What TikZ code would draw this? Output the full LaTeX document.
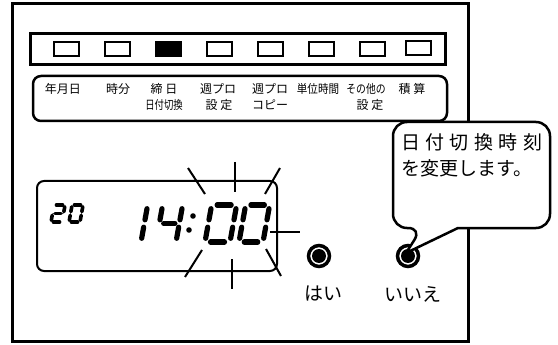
\documentclass[tikz,border=0pt]{standalone}
\usepackage{fontspec}
\usepackage{graphicx}
\newfontfamily\jpfont{Noto Sans CJK JP}
\usepackage{xcolor}
\definecolor{inkblack}{RGB}{0, 0, 0}

% segments of one 7-segment digit, unit box 1 x 2
\newcommand{\segzero}{0.22/2/0.78/2, 1/1.8/1/1.2, 1/0.8/1/0.2, 0.22/0/0.78/0, 0/0.2/0/0.8, 0/1.2/0/1.8}
\newcommand{\segone}{1/1.8/1/1.2, 1/0.8/1/0.2}
\newcommand{\segtwo}{0.22/2/0.78/2, 1/1.8/1/1.2, 0.22/1/0.78/1, 0/0.2/0/0.8, 0.22/0/0.78/0}
\newcommand{\segfour}{0/1.2/0/1.8, 0.22/1/0.78/1, 1/1.8/1/1.2, 1/0.8/1/0.2}
\newcommand{\lcddigit}[6]{%
  \begin{scope}[shift={(#1,#2)}, xslant=0.18, x=#3pt, y=#4pt]
    \foreach \xa/\ya/\xb/\yb in #6 {\draw[inkblack, line width=#5pt, line cap=round] (\xa,\ya) -- (\xb,\yb);}
  \end{scope}}
\newcommand{\narrow}[2]{\scalebox{#1}[1]{#2}}

\begin{document}
\begin{tikzpicture}[x=1pt, y=-1pt,
    keylabel/.style={font=\jpfont\fontsize{12}{14}\selectfont, inner sep=0pt},
    bigtext/.style={font=\jpfont\fontsize{19}{22}\selectfont, inner sep=0pt},
    lamp/.style={draw=inkblack, line width=2},
    ray/.style={draw=inkblack, line width=2},
    button/.style={circle, draw=inkblack, line width=3.5, fill=white, minimum size=21pt, inner sep=0pt,
        path picture={\fill[inkblack] (path picture bounding box.center) circle (7pt);}}]
    \useasboundingbox (0,0) rectangle (558,345);

    % panel
    \draw[inkblack, line width=3] (12,4) rectangle (468,341);

    % lamp bar
    \draw[inkblack, line width=3] (30,34) rectangle (445,65);
    \foreach \i in {0,...,6} {
        \draw[lamp] (53.5+51*\i,42) rectangle ++(25,14);
    }
    \fill[inkblack] (155.5,42) rectangle ++(25,14);
    \draw[lamp] (405.5,41) rectangle ++(25,14);

    % key labels
    \draw[inkblack, line width=2.5, rounded corners=8] (33,76) rectangle (447,121);
    \node[keylabel] (kDate) at (63,89) {年月日};
    \node[keylabel] (kTime) at (118,89) {時分};
    \node[keylabel] (kClose) at (164,89) {締 日};
    \node[keylabel] (kCloseB) at (164,105) {\narrow{0.78}{日付切換}};
    \node[keylabel] (kWeek) at (218,89) {週プロ};
    \node[keylabel] (kWeekB) at (219,105) {設 定};
    \node[keylabel] (kCopy) at (270,89) {週プロ};
    \node[keylabel] (kCopyB) at (270,105) {コピー};
    \node[keylabel] (kUnit) at (318,89) {\narrow{0.88}{単位時間}};
    \node[keylabel] (kOther) at (366,89) {\narrow{0.82}{その他の}};
    \node[keylabel] (kOtherB) at (370,105) {設 定};
    \node[keylabel] (kTotal) at (412,89) {積 算};

    % display
    \draw[inkblack, line width=2, rounded corners=7] (37,181) rectangle (277,271);
    \lcddigit{51}{222}{11}{8.5}{3.6}{\segtwo}
    \lcddigit{69}{222}{11}{8.5}{3.6}{\segzero}
    \lcddigit{119}{242}{22}{18.5}{5.2}{\segone}
    \lcddigit{156}{242}{20}{18.5}{5.2}{\segfour}
    \fill[inkblack] (193,216) circle (2.8pt);
    \fill[inkblack] (189,230) circle (2.8pt);
    \lcddigit{205}{242}{25}{18.5}{5.2}{\segzero}
    \lcddigit{239}{242}{24}{18.5}{5.2}{\segzero}

    % blinking rays
    \draw[ray] (188,168) -- (205,194);
    \draw[ray] (235,162) -- (235,192);
    \draw[ray] (280,168) -- (265,194);
    \draw[ray] (270,232) -- (300,232);
    \draw[ray] (202,250) -- (185,277);
    \draw[ray] (232,259) -- (232,289);
    \draw[ray] (266,249) -- (281,276);

    % buttons
    \node[button] (yes) at (319,256) {};
    \node[button] (no) at (408,256) {};
    \node[bigtext] (yesLabel) at (323,294) {はい};
    \node[bigtext] (noLabel) at (413,294) {いいえ};

    % balloon
    \draw[inkblack, line width=2.5, fill=white] (458,228) [rounded corners=14] -- (550,228) -- (550,122)
        -- (393,122) -- (393,228) -- (422,228) [sharp corners] -- (406,253) -- cycle;
    \node[bigtext, anchor=west] (noteA) at (401,142)
        {\makebox[141pt][s]{日\hfill 付\hfill 切\hfill 換\hfill 時\hfill 刻}};
    \node[bigtext, anchor=west] (noteB) at (401,168) {を変更します。};
\end{tikzpicture}
\end{document}
